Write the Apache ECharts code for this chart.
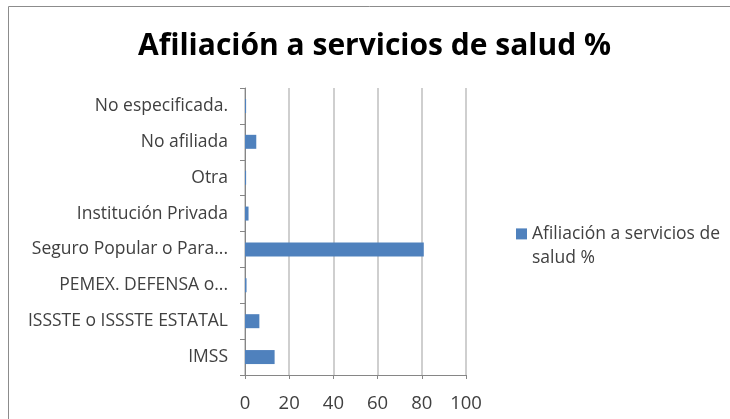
<!DOCTYPE html>
<html><head><meta charset="utf-8">
<script src="https://cdn.jsdelivr.net/npm/echarts@6/dist/echarts.min.js"></script>
<style>html,body{margin:0;padding:0;background:#fff}#c{width:730px;height:419px}</style>
</head><body><div id="c"></div>
<script>
const categories = ["IMSS","ISSSTE o ISSSTE ESTATAL","PEMEX. DEFENSA o...","Seguro Popular o Para...","Institución Privada","Otra","No afiliada","No especificada."];
const values = [13.4, 6.5, 0.7, 80.9, 1.6, 0.5, 5.1, 0.5];
const xTicks = [0, 20, 40, 60, 80, 100];
const seriesName = "Afiliación a servicios de salud %";
const titleText = "Afiliación a servicios de salud %";

const chart = echarts.init(document.getElementById('c'));
const font = "'Open Sans', 'Noto Sans', sans-serif";
chart.setOption({
  animation: false,
  textStyle: {fontFamily: font},
  title: {text: titleText, left: 133, top: 26,
    textStyle: {fontSize: 30, fontWeight: 'bold', color: '#000', fontFamily: font}},
  graphic: [{type: 'rect', shape: {x: 8.5, y: 6.5, width: 740, height: 440}, style: {fill: null, stroke: '#8c8c8c', lineWidth: 1}, silent: true}],
  legend: {
    data: [{name: seriesName, icon: 'path://M0,0L10,0L10,10L0,10ZM0,32'}], left: 511, top: 217, orient: 'vertical',
    itemWidth: 11, itemHeight: 35.2, itemGap: 6, padding: 5,
    formatter: () => "Afiliación a servicios de\nsalud %",
    textStyle: {fontSize: 17.5, color: '#404040', lineHeight: 24, fontFamily: font}
  },
  grid: {left: 245, right: 264, top: 88, bottom: 44, containLabel: false},
  xAxis: {type: 'value', min: 0, max: 100, interval: 20,
    axisLine: {show: true, lineStyle: {color: '#868686'}},
    axisTick: {show: true, length: 4, lineStyle: {color: '#868686'}},
    axisLabel: {fontSize: 18.5, color: '#404040', margin: 19, formatter: v => xTicks.includes(v) ? String(v) : ''},
    splitLine: {show: true, lineStyle: {color: '#bfbfbf', width: 1.5}}
  },
  yAxis: {type: 'category', data: categories,
    axisLine: {show: true, lineStyle: {color: '#868686'}},
    axisTick: {show: true, length: 5, inside: false, lineStyle: {color: '#868686'}},
    axisLabel: {fontSize: 17.5, color: '#404040', margin: 17}
  },
  series: [{name: seriesName, type: 'bar', data: values, barWidth: 14,
    itemStyle: {color: '#4f81bd'}}]
});
</script></body></html>
